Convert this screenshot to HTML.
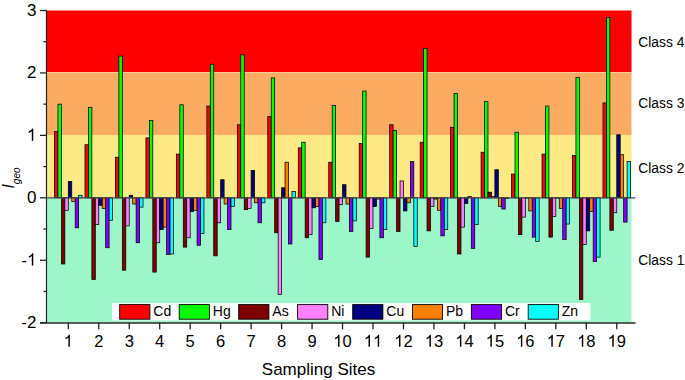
<!DOCTYPE html><html><head><meta charset="utf-8"><style>
html,body{margin:0;padding:0;background:#fff;}
svg{display:block;font-family:"Liberation Sans",sans-serif;}
</style></head><body>
<svg width="685" height="380" viewBox="0 0 685 380">
<rect x="0" y="0" width="685" height="380" fill="#ffffff"/>
<rect x="46.5" y="10.51" width="585.00" height="62.03" fill="#ff0000"/>
<rect x="46.5" y="72.54" width="585.00" height="62.43" fill="#fbab62"/>
<rect x="46.5" y="134.97" width="585.00" height="62.43" fill="#fdea86"/>
<rect x="46.5" y="197.40" width="585.00" height="125.26" fill="#9df6ca"/>
<rect x="46.5" y="72" width="585.00" height="0.9" fill="#fdd3a0"/>
<rect x="54.50" y="131.62" width="3.45" height="66.18" fill="#ff0000" stroke="#000" stroke-width="0.75"/>
<rect x="57.95" y="104.16" width="3.45" height="93.64" fill="#00ff00" stroke="#000" stroke-width="0.75"/>
<rect x="61.40" y="197.80" width="3.45" height="66.18" fill="#800000" stroke="#000" stroke-width="0.75"/>
<rect x="64.85" y="197.80" width="3.45" height="12.49" fill="#ff80ff" stroke="#000" stroke-width="0.75"/>
<rect x="68.30" y="181.57" width="3.45" height="16.23" fill="#000080" stroke="#000" stroke-width="0.75"/>
<rect x="71.75" y="197.80" width="3.45" height="3.75" fill="#ff8000" stroke="#000" stroke-width="0.75"/>
<rect x="75.20" y="197.80" width="3.45" height="29.97" fill="#8000ff" stroke="#000" stroke-width="0.75"/>
<rect x="78.65" y="195.30" width="3.45" height="2.50" fill="#00ffff" stroke="#000" stroke-width="0.75"/>
<rect x="84.97" y="144.73" width="3.45" height="53.07" fill="#ff0000" stroke="#000" stroke-width="0.75"/>
<rect x="88.42" y="107.28" width="3.45" height="90.52" fill="#00ff00" stroke="#000" stroke-width="0.75"/>
<rect x="91.87" y="197.80" width="3.45" height="81.78" fill="#800000" stroke="#000" stroke-width="0.75"/>
<rect x="95.32" y="197.80" width="3.45" height="26.84" fill="#ff80ff" stroke="#000" stroke-width="0.75"/>
<rect x="98.77" y="197.80" width="3.45" height="7.49" fill="#000080" stroke="#000" stroke-width="0.75"/>
<rect x="102.22" y="197.80" width="3.45" height="10.61" fill="#ff8000" stroke="#000" stroke-width="0.75"/>
<rect x="105.67" y="197.80" width="3.45" height="49.94" fill="#8000ff" stroke="#000" stroke-width="0.75"/>
<rect x="109.12" y="197.80" width="3.45" height="22.47" fill="#00ffff" stroke="#000" stroke-width="0.75"/>
<rect x="115.44" y="157.22" width="3.45" height="40.58" fill="#ff0000" stroke="#000" stroke-width="0.75"/>
<rect x="118.89" y="56.08" width="3.45" height="141.72" fill="#00ff00" stroke="#000" stroke-width="0.75"/>
<rect x="122.34" y="197.80" width="3.45" height="72.42" fill="#800000" stroke="#000" stroke-width="0.75"/>
<rect x="125.79" y="197.80" width="3.45" height="28.09" fill="#ff80ff" stroke="#000" stroke-width="0.75"/>
<rect x="129.24" y="195.30" width="3.45" height="2.50" fill="#000080" stroke="#000" stroke-width="0.75"/>
<rect x="132.69" y="197.80" width="3.45" height="6.24" fill="#ff8000" stroke="#000" stroke-width="0.75"/>
<rect x="136.14" y="197.80" width="3.45" height="44.95" fill="#8000ff" stroke="#000" stroke-width="0.75"/>
<rect x="139.59" y="197.80" width="3.45" height="9.36" fill="#00ffff" stroke="#000" stroke-width="0.75"/>
<rect x="145.91" y="137.87" width="3.45" height="59.93" fill="#ff0000" stroke="#000" stroke-width="0.75"/>
<rect x="149.36" y="120.39" width="3.45" height="77.41" fill="#00ff00" stroke="#000" stroke-width="0.75"/>
<rect x="152.81" y="197.80" width="3.45" height="74.29" fill="#800000" stroke="#000" stroke-width="0.75"/>
<rect x="156.26" y="197.80" width="3.45" height="44.95" fill="#ff80ff" stroke="#000" stroke-width="0.75"/>
<rect x="159.71" y="197.80" width="3.45" height="31.84" fill="#000080" stroke="#000" stroke-width="0.75"/>
<rect x="163.16" y="197.80" width="3.45" height="29.34" fill="#ff8000" stroke="#000" stroke-width="0.75"/>
<rect x="166.61" y="197.80" width="3.45" height="56.81" fill="#8000ff" stroke="#000" stroke-width="0.75"/>
<rect x="170.06" y="197.80" width="3.45" height="56.19" fill="#00ffff" stroke="#000" stroke-width="0.75"/>
<rect x="176.38" y="154.10" width="3.45" height="43.70" fill="#ff0000" stroke="#000" stroke-width="0.75"/>
<rect x="179.83" y="104.78" width="3.45" height="93.02" fill="#00ff00" stroke="#000" stroke-width="0.75"/>
<rect x="183.28" y="197.80" width="3.45" height="49.32" fill="#800000" stroke="#000" stroke-width="0.75"/>
<rect x="186.73" y="197.80" width="3.45" height="39.96" fill="#ff80ff" stroke="#000" stroke-width="0.75"/>
<rect x="190.18" y="197.80" width="3.45" height="13.73" fill="#000080" stroke="#000" stroke-width="0.75"/>
<rect x="193.63" y="197.80" width="3.45" height="12.49" fill="#ff8000" stroke="#000" stroke-width="0.75"/>
<rect x="197.08" y="197.80" width="3.45" height="47.45" fill="#8000ff" stroke="#000" stroke-width="0.75"/>
<rect x="200.53" y="197.80" width="3.45" height="35.59" fill="#00ffff" stroke="#000" stroke-width="0.75"/>
<rect x="206.85" y="106.03" width="3.45" height="91.77" fill="#ff0000" stroke="#000" stroke-width="0.75"/>
<rect x="210.30" y="64.20" width="3.45" height="133.60" fill="#00ff00" stroke="#000" stroke-width="0.75"/>
<rect x="213.75" y="197.80" width="3.45" height="58.06" fill="#800000" stroke="#000" stroke-width="0.75"/>
<rect x="217.20" y="197.80" width="3.45" height="24.97" fill="#ff80ff" stroke="#000" stroke-width="0.75"/>
<rect x="220.65" y="179.70" width="3.45" height="18.10" fill="#000080" stroke="#000" stroke-width="0.75"/>
<rect x="224.10" y="197.80" width="3.45" height="6.24" fill="#ff8000" stroke="#000" stroke-width="0.75"/>
<rect x="227.55" y="197.80" width="3.45" height="31.84" fill="#8000ff" stroke="#000" stroke-width="0.75"/>
<rect x="231.00" y="197.80" width="3.45" height="8.74" fill="#00ffff" stroke="#000" stroke-width="0.75"/>
<rect x="237.32" y="124.76" width="3.45" height="73.04" fill="#ff0000" stroke="#000" stroke-width="0.75"/>
<rect x="240.77" y="54.84" width="3.45" height="142.96" fill="#00ff00" stroke="#000" stroke-width="0.75"/>
<rect x="244.22" y="197.80" width="3.45" height="11.86" fill="#800000" stroke="#000" stroke-width="0.75"/>
<rect x="247.67" y="197.80" width="3.45" height="10.61" fill="#ff80ff" stroke="#000" stroke-width="0.75"/>
<rect x="251.12" y="170.33" width="3.45" height="27.47" fill="#000080" stroke="#000" stroke-width="0.75"/>
<rect x="254.57" y="197.80" width="3.45" height="4.99" fill="#ff8000" stroke="#000" stroke-width="0.75"/>
<rect x="258.02" y="197.80" width="3.45" height="24.97" fill="#8000ff" stroke="#000" stroke-width="0.75"/>
<rect x="261.47" y="197.80" width="3.45" height="4.99" fill="#00ffff" stroke="#000" stroke-width="0.75"/>
<rect x="267.79" y="116.64" width="3.45" height="81.16" fill="#ff0000" stroke="#000" stroke-width="0.75"/>
<rect x="271.24" y="77.93" width="3.45" height="119.87" fill="#00ff00" stroke="#000" stroke-width="0.75"/>
<rect x="274.69" y="197.80" width="3.45" height="34.96" fill="#800000" stroke="#000" stroke-width="0.75"/>
<rect x="278.14" y="197.80" width="3.45" height="96.77" fill="#ff80ff" stroke="#000" stroke-width="0.75"/>
<rect x="281.59" y="187.81" width="3.45" height="9.99" fill="#000080" stroke="#000" stroke-width="0.75"/>
<rect x="285.04" y="162.21" width="3.45" height="35.59" fill="#ff8000" stroke="#000" stroke-width="0.75"/>
<rect x="288.49" y="197.80" width="3.45" height="46.20" fill="#8000ff" stroke="#000" stroke-width="0.75"/>
<rect x="291.94" y="191.56" width="3.45" height="6.24" fill="#00ffff" stroke="#000" stroke-width="0.75"/>
<rect x="298.26" y="147.86" width="3.45" height="49.94" fill="#ff0000" stroke="#000" stroke-width="0.75"/>
<rect x="301.71" y="142.24" width="3.45" height="55.56" fill="#00ff00" stroke="#000" stroke-width="0.75"/>
<rect x="305.16" y="197.80" width="3.45" height="39.96" fill="#800000" stroke="#000" stroke-width="0.75"/>
<rect x="308.61" y="197.80" width="3.45" height="36.83" fill="#ff80ff" stroke="#000" stroke-width="0.75"/>
<rect x="312.06" y="197.80" width="3.45" height="9.99" fill="#000080" stroke="#000" stroke-width="0.75"/>
<rect x="315.51" y="197.80" width="3.45" height="8.74" fill="#ff8000" stroke="#000" stroke-width="0.75"/>
<rect x="318.96" y="197.80" width="3.45" height="61.81" fill="#8000ff" stroke="#000" stroke-width="0.75"/>
<rect x="322.41" y="197.80" width="3.45" height="24.97" fill="#00ffff" stroke="#000" stroke-width="0.75"/>
<rect x="328.73" y="162.21" width="3.45" height="35.59" fill="#ff0000" stroke="#000" stroke-width="0.75"/>
<rect x="332.18" y="105.40" width="3.45" height="92.40" fill="#00ff00" stroke="#000" stroke-width="0.75"/>
<rect x="335.63" y="197.80" width="3.45" height="23.72" fill="#800000" stroke="#000" stroke-width="0.75"/>
<rect x="339.08" y="197.80" width="3.45" height="6.87" fill="#ff80ff" stroke="#000" stroke-width="0.75"/>
<rect x="342.53" y="184.69" width="3.45" height="13.11" fill="#000080" stroke="#000" stroke-width="0.75"/>
<rect x="345.98" y="197.80" width="3.45" height="6.24" fill="#ff8000" stroke="#000" stroke-width="0.75"/>
<rect x="349.43" y="197.80" width="3.45" height="33.71" fill="#8000ff" stroke="#000" stroke-width="0.75"/>
<rect x="352.88" y="197.80" width="3.45" height="23.10" fill="#00ffff" stroke="#000" stroke-width="0.75"/>
<rect x="359.20" y="143.49" width="3.45" height="54.31" fill="#ff0000" stroke="#000" stroke-width="0.75"/>
<rect x="362.65" y="91.04" width="3.45" height="106.76" fill="#00ff00" stroke="#000" stroke-width="0.75"/>
<rect x="366.10" y="197.80" width="3.45" height="59.31" fill="#800000" stroke="#000" stroke-width="0.75"/>
<rect x="369.55" y="197.80" width="3.45" height="30.59" fill="#ff80ff" stroke="#000" stroke-width="0.75"/>
<rect x="373.00" y="197.80" width="3.45" height="8.74" fill="#000080" stroke="#000" stroke-width="0.75"/>
<rect x="376.45" y="197.80" width="3.45" height="1.25" fill="#ff8000" stroke="#000" stroke-width="0.75"/>
<rect x="379.90" y="197.80" width="3.45" height="39.96" fill="#8000ff" stroke="#000" stroke-width="0.75"/>
<rect x="383.35" y="197.80" width="3.45" height="31.84" fill="#00ffff" stroke="#000" stroke-width="0.75"/>
<rect x="389.67" y="124.76" width="3.45" height="73.04" fill="#ff0000" stroke="#000" stroke-width="0.75"/>
<rect x="393.12" y="130.38" width="3.45" height="67.42" fill="#00ff00" stroke="#000" stroke-width="0.75"/>
<rect x="396.57" y="197.80" width="3.45" height="33.71" fill="#800000" stroke="#000" stroke-width="0.75"/>
<rect x="400.02" y="180.94" width="3.45" height="16.86" fill="#ff80ff" stroke="#000" stroke-width="0.75"/>
<rect x="403.47" y="197.80" width="3.45" height="13.11" fill="#000080" stroke="#000" stroke-width="0.75"/>
<rect x="406.92" y="197.80" width="3.45" height="4.99" fill="#ff8000" stroke="#000" stroke-width="0.75"/>
<rect x="410.37" y="161.59" width="3.45" height="36.21" fill="#8000ff" stroke="#000" stroke-width="0.75"/>
<rect x="413.82" y="197.80" width="3.45" height="48.70" fill="#00ffff" stroke="#000" stroke-width="0.75"/>
<rect x="420.14" y="142.24" width="3.45" height="55.56" fill="#ff0000" stroke="#000" stroke-width="0.75"/>
<rect x="423.59" y="48.59" width="3.45" height="149.21" fill="#00ff00" stroke="#000" stroke-width="0.75"/>
<rect x="427.04" y="197.80" width="3.45" height="33.09" fill="#800000" stroke="#000" stroke-width="0.75"/>
<rect x="430.49" y="197.80" width="3.45" height="8.74" fill="#ff80ff" stroke="#000" stroke-width="0.75"/>
<rect x="433.94" y="197.80" width="3.45" height="1.25" fill="#000080" stroke="#000" stroke-width="0.75"/>
<rect x="437.39" y="197.80" width="3.45" height="12.49" fill="#ff8000" stroke="#000" stroke-width="0.75"/>
<rect x="440.84" y="197.80" width="3.45" height="38.08" fill="#8000ff" stroke="#000" stroke-width="0.75"/>
<rect x="444.29" y="197.80" width="3.45" height="31.84" fill="#00ffff" stroke="#000" stroke-width="0.75"/>
<rect x="450.61" y="127.25" width="3.45" height="70.55" fill="#ff0000" stroke="#000" stroke-width="0.75"/>
<rect x="454.06" y="93.54" width="3.45" height="104.26" fill="#00ff00" stroke="#000" stroke-width="0.75"/>
<rect x="457.51" y="197.80" width="3.45" height="56.19" fill="#800000" stroke="#000" stroke-width="0.75"/>
<rect x="460.96" y="197.80" width="3.45" height="29.34" fill="#ff80ff" stroke="#000" stroke-width="0.75"/>
<rect x="464.41" y="197.80" width="3.45" height="5.62" fill="#000080" stroke="#000" stroke-width="0.75"/>
<rect x="467.86" y="196.55" width="3.45" height="1.25" fill="#ff8000" stroke="#000" stroke-width="0.75"/>
<rect x="471.31" y="197.80" width="3.45" height="50.57" fill="#8000ff" stroke="#000" stroke-width="0.75"/>
<rect x="474.76" y="197.80" width="3.45" height="26.84" fill="#00ffff" stroke="#000" stroke-width="0.75"/>
<rect x="481.08" y="152.23" width="3.45" height="45.57" fill="#ff0000" stroke="#000" stroke-width="0.75"/>
<rect x="484.53" y="101.66" width="3.45" height="96.14" fill="#00ff00" stroke="#000" stroke-width="0.75"/>
<rect x="487.98" y="192.18" width="3.45" height="5.62" fill="#800000" stroke="#000" stroke-width="0.75"/>
<rect x="491.43" y="196.55" width="3.45" height="1.25" fill="#ff80ff" stroke="#000" stroke-width="0.75"/>
<rect x="494.88" y="169.71" width="3.45" height="28.09" fill="#000080" stroke="#000" stroke-width="0.75"/>
<rect x="498.33" y="197.80" width="3.45" height="8.74" fill="#ff8000" stroke="#000" stroke-width="0.75"/>
<rect x="501.78" y="197.80" width="3.45" height="11.24" fill="#8000ff" stroke="#000" stroke-width="0.75"/>
<rect x="505.23" y="197.80" width="3.45" height="0.62" fill="#00ffff" stroke="#000" stroke-width="0.75"/>
<rect x="511.55" y="174.08" width="3.45" height="23.72" fill="#ff0000" stroke="#000" stroke-width="0.75"/>
<rect x="515.00" y="132.25" width="3.45" height="65.55" fill="#00ff00" stroke="#000" stroke-width="0.75"/>
<rect x="518.45" y="197.80" width="3.45" height="36.83" fill="#800000" stroke="#000" stroke-width="0.75"/>
<rect x="521.90" y="197.80" width="3.45" height="19.35" fill="#ff80ff" stroke="#000" stroke-width="0.75"/>
<rect x="525.35" y="197.80" width="3.45" height="0.30" fill="#000080" stroke="#000" stroke-width="0.75"/>
<rect x="528.80" y="197.80" width="3.45" height="13.11" fill="#ff8000" stroke="#000" stroke-width="0.75"/>
<rect x="532.25" y="197.80" width="3.45" height="39.33" fill="#8000ff" stroke="#000" stroke-width="0.75"/>
<rect x="535.70" y="197.80" width="3.45" height="43.70" fill="#00ffff" stroke="#000" stroke-width="0.75"/>
<rect x="542.02" y="154.10" width="3.45" height="43.70" fill="#ff0000" stroke="#000" stroke-width="0.75"/>
<rect x="545.47" y="106.03" width="3.45" height="91.77" fill="#00ff00" stroke="#000" stroke-width="0.75"/>
<rect x="548.92" y="197.80" width="3.45" height="39.33" fill="#800000" stroke="#000" stroke-width="0.75"/>
<rect x="552.37" y="197.80" width="3.45" height="18.73" fill="#ff80ff" stroke="#000" stroke-width="0.75"/>
<rect x="555.82" y="197.80" width="3.45" height="0.30" fill="#000080" stroke="#000" stroke-width="0.75"/>
<rect x="559.27" y="197.80" width="3.45" height="10.61" fill="#ff8000" stroke="#000" stroke-width="0.75"/>
<rect x="562.72" y="197.80" width="3.45" height="41.83" fill="#8000ff" stroke="#000" stroke-width="0.75"/>
<rect x="566.17" y="197.80" width="3.45" height="26.22" fill="#00ffff" stroke="#000" stroke-width="0.75"/>
<rect x="572.49" y="155.35" width="3.45" height="42.45" fill="#ff0000" stroke="#000" stroke-width="0.75"/>
<rect x="575.94" y="77.31" width="3.45" height="120.49" fill="#00ff00" stroke="#000" stroke-width="0.75"/>
<rect x="579.39" y="197.80" width="3.45" height="101.76" fill="#800000" stroke="#000" stroke-width="0.75"/>
<rect x="582.84" y="197.80" width="3.45" height="46.82" fill="#ff80ff" stroke="#000" stroke-width="0.75"/>
<rect x="586.29" y="197.80" width="3.45" height="33.09" fill="#000080" stroke="#000" stroke-width="0.75"/>
<rect x="589.74" y="197.80" width="3.45" height="13.73" fill="#ff8000" stroke="#000" stroke-width="0.75"/>
<rect x="593.19" y="197.80" width="3.45" height="63.68" fill="#8000ff" stroke="#000" stroke-width="0.75"/>
<rect x="596.64" y="197.80" width="3.45" height="59.31" fill="#00ffff" stroke="#000" stroke-width="0.75"/>
<rect x="602.96" y="102.91" width="3.45" height="94.89" fill="#ff0000" stroke="#000" stroke-width="0.75"/>
<rect x="606.41" y="17.38" width="3.45" height="180.42" fill="#00ff00" stroke="#000" stroke-width="0.75"/>
<rect x="609.86" y="197.80" width="3.45" height="32.46" fill="#800000" stroke="#000" stroke-width="0.75"/>
<rect x="613.31" y="197.80" width="3.45" height="14.98" fill="#ff80ff" stroke="#000" stroke-width="0.75"/>
<rect x="616.76" y="134.75" width="3.45" height="63.05" fill="#000080" stroke="#000" stroke-width="0.75"/>
<rect x="620.21" y="154.72" width="3.45" height="43.08" fill="#ff8000" stroke="#000" stroke-width="0.75"/>
<rect x="623.66" y="197.80" width="3.45" height="24.35" fill="#8000ff" stroke="#000" stroke-width="0.75"/>
<rect x="627.11" y="161.59" width="3.45" height="36.21" fill="#00ffff" stroke="#000" stroke-width="0.75"/>
<line x1="46.5" y1="197.80" x2="635.5" y2="197.80" stroke="#4a4a4a" stroke-width="1.3"/>
<rect x="112" y="303" width="478.5" height="17.5" fill="#ffffff"/>
<rect x="119.70" y="304.6" width="30.2" height="14.6" fill="#ff0000" stroke="#000" stroke-width="0.9"/>
<text x="153.30" y="316.3" font-size="14" fill="#000">Cd</text>
<rect x="179.20" y="304.6" width="30.2" height="14.6" fill="#00ff00" stroke="#000" stroke-width="0.9"/>
<text x="212.80" y="316.3" font-size="14" fill="#000">Hg</text>
<rect x="238.70" y="304.6" width="30.2" height="14.6" fill="#800000" stroke="#000" stroke-width="0.9"/>
<text x="272.30" y="316.3" font-size="14" fill="#000">As</text>
<rect x="297.60" y="304.6" width="30.2" height="14.6" fill="#ff80ff" stroke="#000" stroke-width="0.9"/>
<text x="331.20" y="316.3" font-size="14" fill="#000">Ni</text>
<rect x="352.70" y="304.6" width="30.2" height="14.6" fill="#000080" stroke="#000" stroke-width="0.9"/>
<text x="386.30" y="316.3" font-size="14" fill="#000">Cu</text>
<rect x="412.40" y="304.6" width="30.2" height="14.6" fill="#ff8000" stroke="#000" stroke-width="0.9"/>
<text x="446.00" y="316.3" font-size="14" fill="#000">Pb</text>
<rect x="471.40" y="304.6" width="30.2" height="14.6" fill="#8000ff" stroke="#000" stroke-width="0.9"/>
<text x="505.00" y="316.3" font-size="14" fill="#000">Cr</text>
<rect x="528.20" y="304.6" width="30.2" height="14.6" fill="#00ffff" stroke="#000" stroke-width="0.9"/>
<text x="561.80" y="316.3" font-size="14" fill="#000">Zn</text>
<line x1="46.5" y1="10.01" x2="46.5" y2="323.16" stroke="#222" stroke-width="1.2"/>
<line x1="40" y1="322.91" x2="635.5" y2="322.91" stroke="#2a2a2a" stroke-width="1.5"/>
<line x1="40" y1="10.51" x2="46.5" y2="10.51" stroke="#222" stroke-width="1.3"/>
<text x="26.95" y="15.81" font-size="17" fill="#000">3</text>
<line x1="40" y1="72.94" x2="46.5" y2="72.94" stroke="#222" stroke-width="1.3"/>
<text x="26.95" y="78.24" font-size="17" fill="#000">2</text>
<line x1="40" y1="135.37" x2="46.5" y2="135.37" stroke="#222" stroke-width="1.3"/>
<path transform="translate(26.95,140.67) scale(0.008301,-0.008301)" d="M763 0H583V1147C540 1106 480 1064 412 1023C345 983 282 952 223 930V1104C324 1151 412 1208 487 1276C562 1343 615 1409 647 1472H763Z" fill="#000"/>
<line x1="40" y1="197.80" x2="46.5" y2="197.80" stroke="#222" stroke-width="1.3"/>
<text x="26.95" y="203.10" font-size="17" fill="#000">0</text>
<line x1="40" y1="260.23" x2="46.5" y2="260.23" stroke="#222" stroke-width="1.3"/>
<text x="21.28" y="265.53" font-size="17" fill="#000">-</text><path transform="translate(26.95,265.53) scale(0.008301,-0.008301)" d="M763 0H583V1147C540 1106 480 1064 412 1023C345 983 282 952 223 930V1104C324 1151 412 1208 487 1276C562 1343 615 1409 647 1472H763Z" fill="#000"/>
<line x1="40" y1="322.66" x2="46.5" y2="322.66" stroke="#222" stroke-width="1.3"/>
<text x="21.28" y="327.96" font-size="17" fill="#000">-2</text>
<line x1="43.5" y1="41.73" x2="46.5" y2="41.73" stroke="#222" stroke-width="1.3"/>
<line x1="43.5" y1="104.16" x2="46.5" y2="104.16" stroke="#222" stroke-width="1.3"/>
<line x1="43.5" y1="166.59" x2="46.5" y2="166.59" stroke="#222" stroke-width="1.3"/>
<line x1="43.5" y1="229.02" x2="46.5" y2="229.02" stroke="#222" stroke-width="1.3"/>
<line x1="43.5" y1="291.44" x2="46.5" y2="291.44" stroke="#222" stroke-width="1.3"/>
<line x1="68.30" y1="322.66" x2="68.30" y2="329.3" stroke="#222" stroke-width="1.3"/>
<path transform="translate(63.71,346.70) scale(0.008057,-0.008057)" d="M763 0H583V1147C540 1106 480 1064 412 1023C345 983 282 952 223 930V1104C324 1151 412 1208 487 1276C562 1343 615 1409 647 1472H763Z" fill="#000"/>
<line x1="98.77" y1="322.66" x2="98.77" y2="329.3" stroke="#222" stroke-width="1.3"/>
<text x="94.18" y="346.70" font-size="16.5" fill="#000">2</text>
<line x1="129.24" y1="322.66" x2="129.24" y2="329.3" stroke="#222" stroke-width="1.3"/>
<text x="124.65" y="346.70" font-size="16.5" fill="#000">3</text>
<line x1="159.71" y1="322.66" x2="159.71" y2="329.3" stroke="#222" stroke-width="1.3"/>
<text x="155.12" y="346.70" font-size="16.5" fill="#000">4</text>
<line x1="190.18" y1="322.66" x2="190.18" y2="329.3" stroke="#222" stroke-width="1.3"/>
<text x="185.59" y="346.70" font-size="16.5" fill="#000">5</text>
<line x1="220.65" y1="322.66" x2="220.65" y2="329.3" stroke="#222" stroke-width="1.3"/>
<text x="216.06" y="346.70" font-size="16.5" fill="#000">6</text>
<line x1="251.12" y1="322.66" x2="251.12" y2="329.3" stroke="#222" stroke-width="1.3"/>
<text x="246.53" y="346.70" font-size="16.5" fill="#000">7</text>
<line x1="281.59" y1="322.66" x2="281.59" y2="329.3" stroke="#222" stroke-width="1.3"/>
<text x="277.00" y="346.70" font-size="16.5" fill="#000">8</text>
<line x1="312.06" y1="322.66" x2="312.06" y2="329.3" stroke="#222" stroke-width="1.3"/>
<text x="307.47" y="346.70" font-size="16.5" fill="#000">9</text>
<line x1="342.53" y1="322.66" x2="342.53" y2="329.3" stroke="#222" stroke-width="1.3"/>
<path transform="translate(333.35,346.70) scale(0.008057,-0.008057)" d="M763 0H583V1147C540 1106 480 1064 412 1023C345 983 282 952 223 930V1104C324 1151 412 1208 487 1276C562 1343 615 1409 647 1472H763Z" fill="#000"/><text x="342.53" y="346.70" font-size="16.5" fill="#000">0</text>
<line x1="373.00" y1="322.66" x2="373.00" y2="329.3" stroke="#222" stroke-width="1.3"/>
<path transform="translate(363.82,346.70) scale(0.008057,-0.008057)" d="M763 0H583V1147C540 1106 480 1064 412 1023C345 983 282 952 223 930V1104C324 1151 412 1208 487 1276C562 1343 615 1409 647 1472H763Z" fill="#000"/><path transform="translate(373.00,346.70) scale(0.008057,-0.008057)" d="M763 0H583V1147C540 1106 480 1064 412 1023C345 983 282 952 223 930V1104C324 1151 412 1208 487 1276C562 1343 615 1409 647 1472H763Z" fill="#000"/>
<line x1="403.47" y1="322.66" x2="403.47" y2="329.3" stroke="#222" stroke-width="1.3"/>
<path transform="translate(394.29,346.70) scale(0.008057,-0.008057)" d="M763 0H583V1147C540 1106 480 1064 412 1023C345 983 282 952 223 930V1104C324 1151 412 1208 487 1276C562 1343 615 1409 647 1472H763Z" fill="#000"/><text x="403.47" y="346.70" font-size="16.5" fill="#000">2</text>
<line x1="433.94" y1="322.66" x2="433.94" y2="329.3" stroke="#222" stroke-width="1.3"/>
<path transform="translate(424.76,346.70) scale(0.008057,-0.008057)" d="M763 0H583V1147C540 1106 480 1064 412 1023C345 983 282 952 223 930V1104C324 1151 412 1208 487 1276C562 1343 615 1409 647 1472H763Z" fill="#000"/><text x="433.94" y="346.70" font-size="16.5" fill="#000">3</text>
<line x1="464.41" y1="322.66" x2="464.41" y2="329.3" stroke="#222" stroke-width="1.3"/>
<path transform="translate(455.23,346.70) scale(0.008057,-0.008057)" d="M763 0H583V1147C540 1106 480 1064 412 1023C345 983 282 952 223 930V1104C324 1151 412 1208 487 1276C562 1343 615 1409 647 1472H763Z" fill="#000"/><text x="464.41" y="346.70" font-size="16.5" fill="#000">4</text>
<line x1="494.88" y1="322.66" x2="494.88" y2="329.3" stroke="#222" stroke-width="1.3"/>
<path transform="translate(485.70,346.70) scale(0.008057,-0.008057)" d="M763 0H583V1147C540 1106 480 1064 412 1023C345 983 282 952 223 930V1104C324 1151 412 1208 487 1276C562 1343 615 1409 647 1472H763Z" fill="#000"/><text x="494.88" y="346.70" font-size="16.5" fill="#000">5</text>
<line x1="525.35" y1="322.66" x2="525.35" y2="329.3" stroke="#222" stroke-width="1.3"/>
<path transform="translate(516.17,346.70) scale(0.008057,-0.008057)" d="M763 0H583V1147C540 1106 480 1064 412 1023C345 983 282 952 223 930V1104C324 1151 412 1208 487 1276C562 1343 615 1409 647 1472H763Z" fill="#000"/><text x="525.35" y="346.70" font-size="16.5" fill="#000">6</text>
<line x1="555.82" y1="322.66" x2="555.82" y2="329.3" stroke="#222" stroke-width="1.3"/>
<path transform="translate(546.64,346.70) scale(0.008057,-0.008057)" d="M763 0H583V1147C540 1106 480 1064 412 1023C345 983 282 952 223 930V1104C324 1151 412 1208 487 1276C562 1343 615 1409 647 1472H763Z" fill="#000"/><text x="555.82" y="346.70" font-size="16.5" fill="#000">7</text>
<line x1="586.29" y1="322.66" x2="586.29" y2="329.3" stroke="#222" stroke-width="1.3"/>
<path transform="translate(577.11,346.70) scale(0.008057,-0.008057)" d="M763 0H583V1147C540 1106 480 1064 412 1023C345 983 282 952 223 930V1104C324 1151 412 1208 487 1276C562 1343 615 1409 647 1472H763Z" fill="#000"/><text x="586.29" y="346.70" font-size="16.5" fill="#000">8</text>
<line x1="616.76" y1="322.66" x2="616.76" y2="329.3" stroke="#222" stroke-width="1.3"/>
<path transform="translate(607.58,346.70) scale(0.008057,-0.008057)" d="M763 0H583V1147C540 1106 480 1064 412 1023C345 983 282 952 223 930V1104C324 1151 412 1208 487 1276C562 1343 615 1409 647 1472H763Z" fill="#000"/><text x="616.76" y="346.70" font-size="16.5" fill="#000">9</text>
<text x="638.3" y="47.1" font-size="13.8" fill="#000">Class 4</text>
<text x="638.3" y="108" font-size="13.8" fill="#000">Class 3</text>
<text x="638.3" y="173" font-size="13.8" fill="#000">Class 2</text>
<text x="638.3" y="264.6" font-size="13.8" fill="#000">Class 1</text>
<text x="261.8" y="375" font-size="17" fill="#000">Sampling Sites</text>
<text transform="translate(13.6,188.6) rotate(-90)" font-size="16" fill="#000"><tspan font-style="italic">I</tspan><tspan font-size="10" font-style="italic" dy="6.5">geo</tspan></text>
</svg></body></html>
